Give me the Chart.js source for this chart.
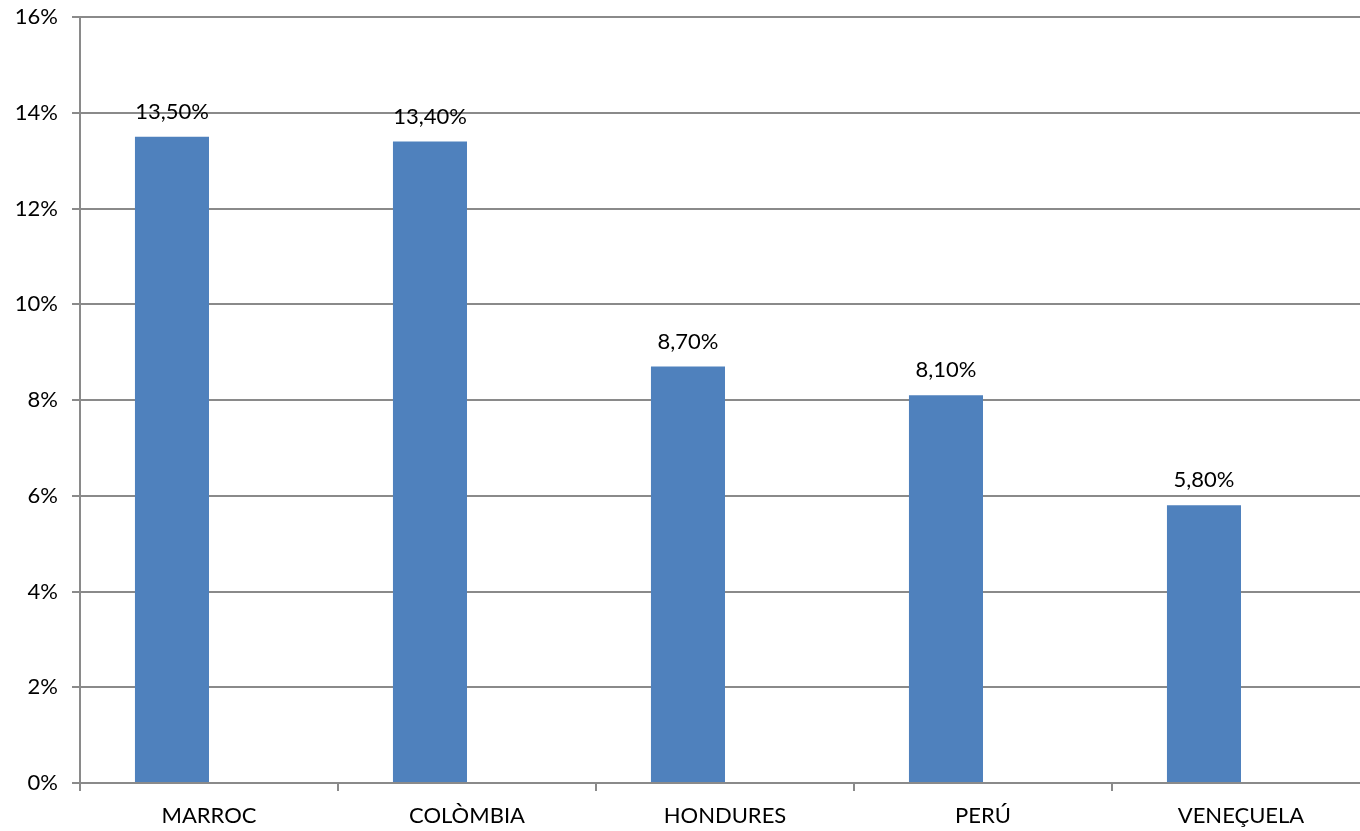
<!DOCTYPE html>
<html><head><meta charset="utf-8">
<script src="https://cdn.jsdelivr.net/npm/chart.js@4/dist/chart.umd.min.js"></script>
<style>html,body{margin:0;padding:0;background:#fff;overflow:hidden}#wrap{width:1370px;height:831px}</style>
</head><body><div id="wrap"><canvas id="c"></canvas></div>
<script>
const categories = ["MARROC", "COLÒMBIA", "HONDURES", "PERÚ", "VENEÇUELA"];
const values = [13.5, 13.4, 8.7, 8.1, 5.8];
const emptySeries = [null, null, null, null, null];
const valueLabels = ["13,50%", "13,40%", "8,70%", "8,10%", "5,80%"];
const yTicks = [0, 2, 4, 6, 8, 10, 12, 14, 16];

const FONT = "Lato, 'Open Sans', sans-serif";
const GRID = "#8a8a8a";

const labelPlugin = {
  id: 'valLabels',
  afterDatasetsDraw(chart) {
    const ctx = chart.ctx;
    const meta = chart.getDatasetMeta(0);
    ctx.save();
    ctx.font = "22px " + FONT;
    ctx.fillStyle = "#000";
    ctx.textAlign = "center";
    ctx.textBaseline = "bottom";
    meta.data.forEach((bar, i) => {
      ctx.fillText(valueLabels[i], bar.x, bar.y - 14);
    });
    ctx.restore();
  }
};

new Chart(document.getElementById('c'), {
  type: 'bar',
  data: {
    labels: categories,
    datasets: [{
      data: values,
      backgroundColor: "#4F81BD",
      categoryPercentage: 0.574,
      barPercentage: 1
    }, {
      data: emptySeries,
      backgroundColor: "#C0504D",
      categoryPercentage: 0.574,
      barPercentage: 1
    }]
  },
  options: {
    responsive: true,
    maintainAspectRatio: false,
    animation: false,
    devicePixelRatio: 1,
    layout: { padding: { top: 17, right: 0, left: 0, bottom: 0 } },
    plugins: { legend: { display: false }, tooltip: { enabled: false } },
    scales: {
      x: {
        grid: { offset: true, drawOnChartArea: false, drawTicks: true, tickLength: 8, color: GRID, lineWidth: 2 },
        border: { color: GRID, width: 2 },
        ticks: { color: "#000", font: { family: FONT, size: 22 }, padding: 12, maxRotation: 0 },
        afterFit(s) { s.height = 48; s.paddingLeft = 0; s.paddingRight = 0; }
      },
      y: {
        min: 0, max: 16,
        afterBuildTicks(s) { s.ticks = yTicks.map(v => ({ value: v })); },
        grid: { color: GRID, lineWidth: 2, tickLength: 8, drawTicks: true },
        border: { color: GRID, width: 2 },
        ticks: { color: "#000", font: { family: FONT, size: 22 }, padding: 14, callback: v => v + "%" },
        afterFit(s) { s.width = 80; s.paddingTop = 0; s.paddingBottom = 0; }
      }
    }
  },
  plugins: [labelPlugin]
});
</script></body></html>
